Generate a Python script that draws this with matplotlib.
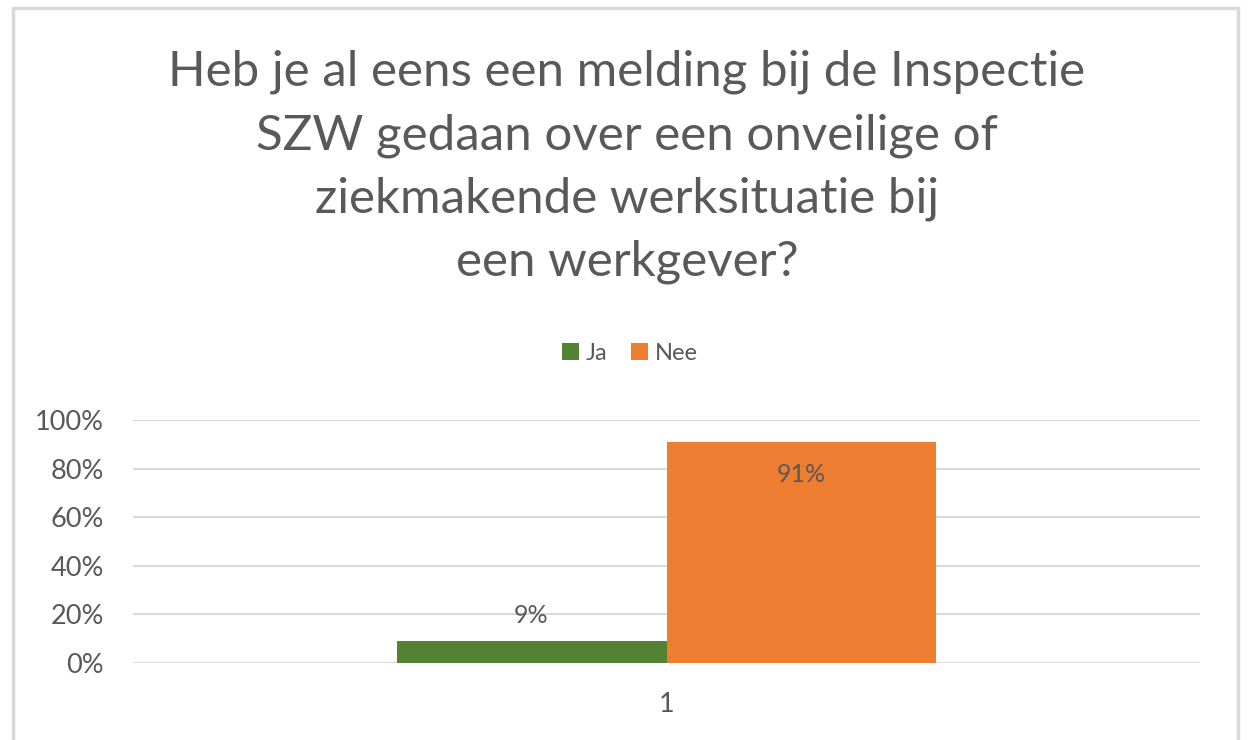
import matplotlib.pyplot as plt
from matplotlib.patches import Rectangle
from matplotlib.ticker import PercentFormatter

categories = ['1']
series = ['Ja', 'Nee']
values = [0.09, 0.91]
colors = ['#548235', '#ED7D31']
title = 'Heb je al eens een melding bij de Inspectie\nSZW gedaan over een onveilige of\nziekmakende werksituatie bij\neen werkgever?'

plt.rcParams['font.family'] = ['Lato', 'DejaVu Sans']
text_color = '#595959'

fig = plt.figure(figsize=(12.48, 7.4), dpi=100)
fig.patches.append(Rectangle((13 / 1248, -0.05), 1225 / 1248, 1.05 - 8 / 740,
                             transform=fig.transFigure, fill=False,
                             edgecolor='#D9D9D9', linewidth=2.5))

ax = fig.add_axes([133 / 1248, 1 - 663 / 740, 1067 / 1248, 243 / 740])

width = 0.253
offsets = [-width / 2, width / 2]
for name, val, col, off in zip(series, values, colors, offsets):
    ax.bar(off, val, width=width, color=col, label=name, zorder=3)

# data labels: Ja above bar, Nee inside near top
ax.text(offsets[0], values[0] + 0.06, f'{values[0]:.0%}', ha='center', va='bottom',
        fontsize=18, color=text_color)
ax.text(offsets[1], values[1] - 0.085, f'{values[1]:.0%}', ha='center', va='top',
        fontsize=18, color=text_color)

ax.set_xlim(-0.5, 0.5)
ax.set_ylim(0, 1)
ax.set_yticks([0, 0.2, 0.4, 0.6, 0.8, 1.0])
ax.yaxis.set_major_formatter(PercentFormatter(1.0, decimals=0))
ax.set_xticks([0])
ax.set_xticklabels(categories)
ax.tick_params(axis='both', length=0, labelsize=19.5, labelcolor=text_color)
ax.tick_params(axis='y', pad=21)
ax.tick_params(axis='x', pad=21)
ax.grid(axis='y', color='#D9D9D9', linewidth=1.5, zorder=0)
for s in ax.spines.values():
    s.set_visible(False)

fig.text(627 / 1248, 1 - 50 / 740, title, ha='center', va='top', fontsize=35.5,
         color=text_color, fontweight='normal', linespacing=1.52)

fig.legend(loc='center', bbox_to_anchor=(630 / 1248, 1 - 353 / 740), ncol=2,
           frameon=False, fontsize=17, labelcolor=text_color,
           handlelength=0.7, handleheight=0.7, handletextpad=0.3, columnspacing=1.0)

fig.savefig('out.png', dpi=100)
